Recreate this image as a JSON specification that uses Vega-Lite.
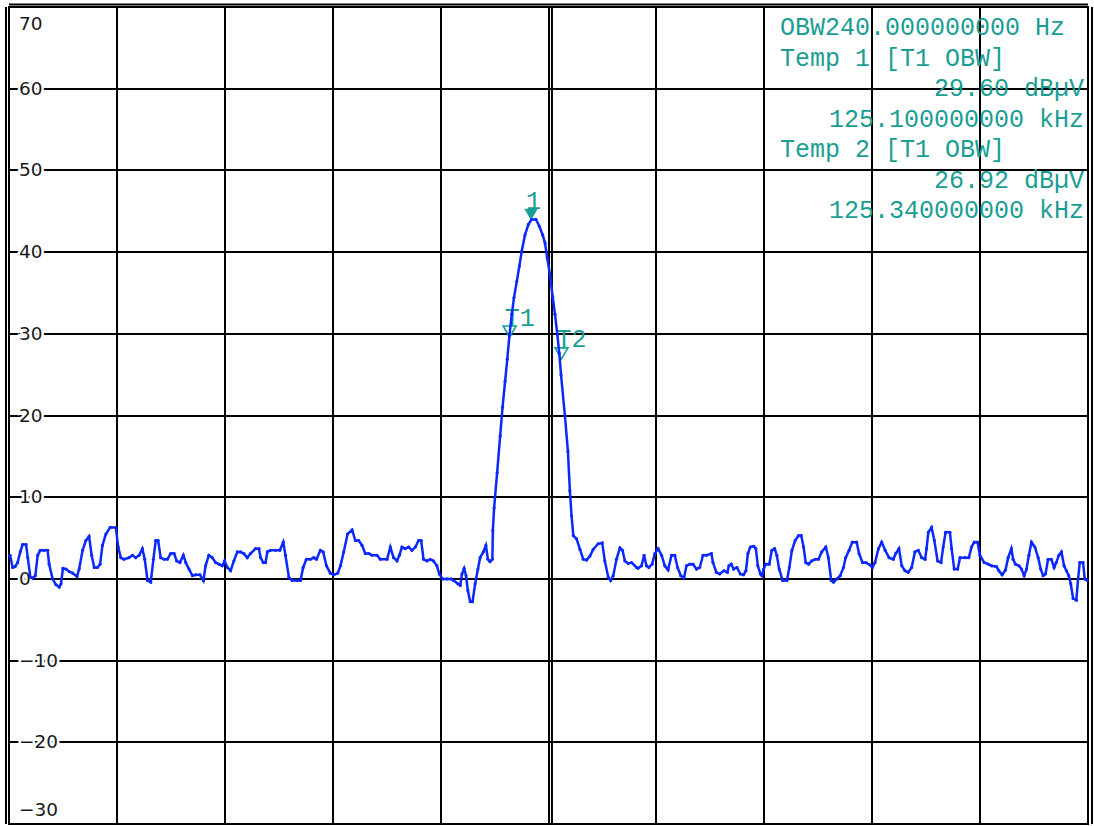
{
  "$schema": "https://vega.github.io/schema/vega-lite/v6.json",
  "width": 1079,
  "height": 817,
  "autosize": {"type": "none"},
  "padding": {"left": 9, "top": 7, "right": 6, "bottom": 2},
  "background": "#ffffff",
  "config": {
    "view": {"stroke": "#000000", "strokeWidth": 2},
    "axis": {"labels": false, "ticks": false, "title": null, "translate": 0, "gridColor": "#000000", "gridWidth": 2, "gridOpacity": 1, "domainColor": "#000000", "domainWidth": 2, "zindex": 0}
  },
  "datasets": {
    "trace": [
      {"f":122.785,"dB":2.9},{"f":122.797,"dB":1.4},{"f":122.808,"dB":1.5},{"f":122.820,"dB":2.0},{"f":122.832,"dB":3.3},{"f":122.843,"dB":4.2},{"f":122.859,"dB":4.2},{"f":122.867,"dB":2.6},{"f":122.879,"dB":0.2},{"f":122.890,"dB":0.1},
      {"f":122.902,"dB":0.4},{"f":122.913,"dB":2.9},{"f":122.925,"dB":3.5},{"f":122.941,"dB":3.5},{"f":122.959,"dB":3.5},{"f":122.966,"dB":1.8},{"f":122.982,"dB":0},{"f":122.997,"dB":-0.7},{"f":123.013,"dB":-1.0},{"f":123.021,"dB":-0.6},
      {"f":123.030,"dB":1.3},{"f":123.044,"dB":1.2},{"f":123.059,"dB":0.9},{"f":123.075,"dB":0.7},{"f":123.095,"dB":0.3},{"f":123.105,"dB":1.2},{"f":123.121,"dB":3.5},{"f":123.136,"dB":4.7},{"f":123.151,"dB":5.2},{"f":123.163,"dB":2.9},
      {"f":123.175,"dB":1.4},{"f":123.190,"dB":1.4},{"f":123.202,"dB":1.8},{"f":123.213,"dB":4.1},{"f":123.229,"dB":5.5},{"f":123.249,"dB":6.3},{"f":123.275,"dB":6.3},{"f":123.286,"dB":3.9},{"f":123.298,"dB":2.6},{"f":123.313,"dB":2.4},
      {"f":123.336,"dB":2.6},{"f":123.352,"dB":2.9},{"f":123.367,"dB":2.6},{"f":123.383,"dB":2.9},{"f":123.398,"dB":3.7},{"f":123.409,"dB":2.4},{"f":123.422,"dB":-0.2},{"f":123.437,"dB":-0.4},{"f":123.449,"dB":2.4},{"f":123.460,"dB":4.7},
      {"f":123.471,"dB":4.7},{"f":123.483,"dB":2.6},{"f":123.498,"dB":2.4},{"f":123.514,"dB":2.4},{"f":123.529,"dB":3.1},{"f":123.545,"dB":3.1},{"f":123.557,"dB":2.2},{"f":123.572,"dB":2.0},{"f":123.588,"dB":2.9},{"f":123.599,"dB":2.0},
      {"f":123.614,"dB":1.2},{"f":123.630,"dB":0.4},{"f":123.645,"dB":0.5},{"f":123.665,"dB":0.5},{"f":123.681,"dB":-0.2},{"f":123.691,"dB":1.6},{"f":123.706,"dB":2.9},{"f":123.722,"dB":2.6},{"f":123.737,"dB":2.0},{"f":123.753,"dB":1.8},
      {"f":123.768,"dB":1.6},{"f":123.779,"dB":2.2},{"f":123.792,"dB":1.4},{"f":123.807,"dB":1.0},{"f":123.822,"dB":2.2},{"f":123.838,"dB":3.3},{"f":123.853,"dB":3.3},{"f":123.868,"dB":3.1},{"f":123.884,"dB":2.6},{"f":123.899,"dB":3.1},
      {"f":123.922,"dB":3.7},{"f":123.938,"dB":3.7},{"f":123.946,"dB":2.6},{"f":123.958,"dB":2.0},{"f":123.969,"dB":2.0},{"f":123.977,"dB":3.3},{"f":123.992,"dB":3.5},{"f":124.015,"dB":3.5},{"f":124.035,"dB":3.5},{"f":124.051,"dB":4.5},
      {"f":124.061,"dB":2.9},{"f":124.077,"dB":0.2},{"f":124.092,"dB":-0.2},{"f":124.115,"dB":-0.2},{"f":124.131,"dB":-0.2},{"f":124.143,"dB":1.4},{"f":124.158,"dB":2.4},{"f":124.177,"dB":2.4},{"f":124.192,"dB":2.6},{"f":124.205,"dB":2.4},
      {"f":124.223,"dB":3.5},{"f":124.236,"dB":3.3},{"f":124.251,"dB":1.6},{"f":124.269,"dB":0.7},{"f":124.285,"dB":0.5},{"f":124.303,"dB":0.7},{"f":124.316,"dB":1.6},{"f":124.331,"dB":3.3},{"f":124.349,"dB":5.5},{"f":124.370,"dB":6.0},
      {"f":124.385,"dB":4.7},{"f":124.400,"dB":4.7},{"f":124.416,"dB":4.1},{"f":124.431,"dB":3.1},{"f":124.447,"dB":3.1},{"f":124.462,"dB":2.9},{"f":124.485,"dB":2.9},{"f":124.501,"dB":2.4},{"f":124.532,"dB":2.4},{"f":124.547,"dB":3.9},
      {"f":124.562,"dB":2.6},{"f":124.578,"dB":2.2},{"f":124.589,"dB":2.9},{"f":124.601,"dB":3.9},{"f":124.616,"dB":3.7},{"f":124.632,"dB":3.9},{"f":124.647,"dB":3.5},{"f":124.663,"dB":3.9},{"f":124.678,"dB":4.7},{"f":124.690,"dB":4.7},
      {"f":124.701,"dB":2.4},{"f":124.717,"dB":2.2},{"f":124.732,"dB":2.4},{"f":124.747,"dB":2.2},{"f":124.763,"dB":1.6},{"f":124.774,"dB":0.6},{"f":124.789,"dB":0},{"f":124.809,"dB":0},{"f":124.829,"dB":0},{"f":124.840,"dB":-0.2},
      {"f":124.860,"dB":-0.6},{"f":124.871,"dB":-0.8},{"f":124.879,"dB":0.6},{"f":124.889,"dB":1.3},{"f":124.898,"dB":0.4},{"f":124.906,"dB":-1.4},{"f":124.917,"dB":-2.8},{"f":124.928,"dB":-2.8},{"f":124.940,"dB":-0.6},{"f":124.953,"dB":1.2},
      {"f":124.963,"dB":2.6},{"f":124.978,"dB":3.3},{"f":124.990,"dB":4.1},{"f":124.999,"dB":2.4},{"f":125.009,"dB":2.1},{"f":125.020,"dB":2.4},{"f":125.022,"dB":5.9},{"f":125.028,"dB":8.7},{"f":125.042,"dB":13.0},{"f":125.056,"dB":17.5},
      {"f":125.067,"dB":21.0},{"f":125.079,"dB":24.2},{"f":125.089,"dB":26.9},{"f":125.099,"dB":29.8},{"f":125.110,"dB":32.4},{"f":125.120,"dB":34.4},{"f":125.133,"dB":36.4},{"f":125.145,"dB":38.3},{"f":125.156,"dB":40.1},{"f":125.171,"dB":42.1},
      {"f":125.187,"dB":43.4},{"f":125.202,"dB":44.0},{"f":125.222,"dB":44.0},{"f":125.237,"dB":43.2},{"f":125.253,"dB":42.1},{"f":125.264,"dB":41.1},{"f":125.274,"dB":39.3},{"f":125.287,"dB":37.2},{"f":125.299,"dB":34.6},{"f":125.310,"dB":32.4},
      {"f":125.321,"dB":29.9},{"f":125.330,"dB":27.6},{"f":125.338,"dB":25.0},{"f":125.356,"dB":20.0},{"f":125.370,"dB":15.6},{"f":125.379,"dB":10.8},{"f":125.387,"dB":7.7},{"f":125.395,"dB":5.3},{"f":125.410,"dB":4.9},{"f":125.426,"dB":3.6},
      {"f":125.441,"dB":2.4},{"f":125.457,"dB":2.3},{"f":125.472,"dB":2.8},{"f":125.487,"dB":3.6},{"f":125.510,"dB":4.3},{"f":125.529,"dB":4.4},{"f":125.541,"dB":2.2},{"f":125.557,"dB":0.2},{"f":125.568,"dB":-0.2},{"f":125.580,"dB":0.4},
      {"f":125.595,"dB":2.4},{"f":125.611,"dB":3.8},{"f":125.623,"dB":3.5},{"f":125.634,"dB":2.2},{"f":125.649,"dB":1.9},{"f":125.665,"dB":2.0},{"f":125.688,"dB":1.4},{"f":125.695,"dB":1.3},{"f":125.711,"dB":1.6},{"f":125.723,"dB":2.9},
      {"f":125.734,"dB":1.6},{"f":125.745,"dB":1.4},{"f":125.760,"dB":1.8},{"f":125.773,"dB":3.1},{"f":125.788,"dB":3.7},{"f":125.804,"dB":2.9},{"f":125.819,"dB":1.6},{"f":125.834,"dB":1.1},{"f":125.850,"dB":2.9},{"f":125.865,"dB":2.9},
      {"f":125.878,"dB":1.4},{"f":125.893,"dB":0.4},{"f":125.908,"dB":0.1},{"f":125.919,"dB":1.6},{"f":125.935,"dB":1.8},{"f":125.950,"dB":1.8},{"f":125.966,"dB":1.2},{"f":125.981,"dB":1.4},{"f":125.996,"dB":2.9},{"f":126.012,"dB":2.9},
      {"f":126.035,"dB":3.1},{"f":126.042,"dB":2.0},{"f":126.058,"dB":0.8},{"f":126.073,"dB":0.6},{"f":126.093,"dB":1.0},{"f":126.109,"dB":0.8},{"f":126.116,"dB":1.6},{"f":126.127,"dB":1.8},{"f":126.138,"dB":1.2},{"f":126.153,"dB":1.4},
      {"f":126.169,"dB":0.6},{"f":126.184,"dB":0.5},{"f":126.195,"dB":1.0},{"f":126.204,"dB":3.1},{"f":126.215,"dB":3.9},{"f":126.231,"dB":4.0},{"f":126.241,"dB":3.7},{"f":126.250,"dB":1.6},{"f":126.262,"dB":0.6},{"f":126.269,"dB":0.4},
      {"f":126.277,"dB":1.2},{"f":126.287,"dB":1.8},{"f":126.303,"dB":1.8},{"f":126.315,"dB":3.5},{"f":126.328,"dB":3.7},{"f":126.338,"dB":2.9},{"f":126.349,"dB":1.2},{"f":126.365,"dB":-0.2},{"f":126.385,"dB":-0.2},{"f":126.396,"dB":1.4},
      {"f":126.408,"dB":3.5},{"f":126.423,"dB":4.7},{"f":126.439,"dB":5.3},{"f":126.451,"dB":5.3},{"f":126.462,"dB":3.9},{"f":126.472,"dB":2.0},{"f":126.485,"dB":1.8},{"f":126.500,"dB":2.2},{"f":126.516,"dB":2.4},{"f":126.531,"dB":2.4},
      {"f":126.546,"dB":3.3},{"f":126.565,"dB":3.9},{"f":126.577,"dB":2.6},{"f":126.590,"dB":-0.2},{"f":126.601,"dB":-0.4},{"f":126.616,"dB":0},{"f":126.632,"dB":0.4},{"f":126.647,"dB":1.4},{"f":126.657,"dB":2.6},{"f":126.673,"dB":3.5},
      {"f":126.688,"dB":4.5},{"f":126.708,"dB":4.5},{"f":126.719,"dB":3.1},{"f":126.735,"dB":2.0},{"f":126.750,"dB":2.0},{"f":126.770,"dB":1.7},{"f":126.781,"dB":1.4},{"f":126.793,"dB":2.0},{"f":126.809,"dB":3.7},{"f":126.824,"dB":4.5},
      {"f":126.840,"dB":3.5},{"f":126.858,"dB":2.6},{"f":126.878,"dB":2.4},{"f":126.889,"dB":3.1},{"f":126.904,"dB":3.7},{"f":126.917,"dB":1.6},{"f":126.932,"dB":1.0},{"f":126.947,"dB":0.8},{"f":126.963,"dB":1.4},{"f":126.978,"dB":3.3},
      {"f":126.994,"dB":3.5},{"f":127.009,"dB":2.6},{"f":127.025,"dB":2.4},{"f":127.032,"dB":3.7},{"f":127.040,"dB":5.7},{"f":127.055,"dB":6.3},{"f":127.068,"dB":4.7},{"f":127.083,"dB":2.2},{"f":127.099,"dB":2.0},{"f":127.109,"dB":3.9},
      {"f":127.120,"dB":5.7},{"f":127.140,"dB":5.7},{"f":127.148,"dB":3.7},{"f":127.160,"dB":1.2},{"f":127.176,"dB":1.2},{"f":127.187,"dB":2.6},{"f":127.210,"dB":2.6},{"f":127.228,"dB":2.6},{"f":127.240,"dB":3.9},{"f":127.253,"dB":4.5},
      {"f":127.268,"dB":4.5},{"f":127.279,"dB":2.9},{"f":127.299,"dB":2.0},{"f":127.318,"dB":1.8},{"f":127.333,"dB":1.6},{"f":127.356,"dB":1.5},{"f":127.367,"dB":1.0},{"f":127.382,"dB":0.5},{"f":127.398,"dB":1.1},{"f":127.410,"dB":2.6},
      {"f":127.425,"dB":3.7},{"f":127.433,"dB":2.4},{"f":127.444,"dB":1.8},{"f":127.460,"dB":1.6},{"f":127.472,"dB":1.2},{"f":127.484,"dB":0.4},{"f":127.495,"dB":1.2},{"f":127.506,"dB":2.9},{"f":127.518,"dB":4.5},{"f":127.534,"dB":3.9},
      {"f":127.549,"dB":2.6},{"f":127.561,"dB":1.2},{"f":127.572,"dB":0.4},{"f":127.583,"dB":0.6},{"f":127.595,"dB":2.4},{"f":127.610,"dB":2.4},{"f":127.623,"dB":1.4},{"f":127.633,"dB":2.0},{"f":127.645,"dB":2.9},{"f":127.657,"dB":3.3},
      {"f":127.669,"dB":1.6},{"f":127.680,"dB":1.0},{"f":127.691,"dB":0.4},{"f":127.700,"dB":-0.6},{"f":127.711,"dB":-2.4},{"f":127.726,"dB":-2.6},{"f":127.734,"dB":0},{"f":127.742,"dB":2.0},{"f":127.757,"dB":2.0},{"f":127.765,"dB":0},
      {"f":127.777,"dB":-0.2}
    ],
    "ylabels": [{"v":-30},{"v":-20},{"v":-10},{"v":0},{"v":10},{"v":20},{"v":30},{"v":40},{"v":50},{"v":60},{"v":70}],
    "markers": [{"name":"1","f":125.199,"dB":43.9},{"name":"T1","f":125.1,"dB":29.6},{"name":"T2","f":125.34,"dB":26.92}],
    "centre": [{"f":125.296}]
  },
  "resolve": {"axis": {"x": "independent", "y": "independent"}},
  "layer": [
    {
      "data": {"name": "centre"},
      "mark": {"type": "rule", "color": "#000000", "strokeWidth": 2},
      "encoding": {
        "x": {"field": "f", "type": "quantitative", "scale": {"domain": [122.78, 127.78], "nice": false, "zero": false}, "axis": null}
      }
    },
    {
      "data": {"name": "ylabels"},
      "transform": [{"filter": "datum.v > -30 && datum.v < 70"}],
      "mark": {"type": "text", "align": "left", "baseline": "middle", "dx": 10, "font": "DejaVu Sans", "fontSize": 18.5, "fill": "#ffffff", "stroke": "#ffffff", "strokeWidth": 5},
      "encoding": {
        "x": {"datum": 122.78, "type": "quantitative", "axis": null},
        "y": {"field": "v", "type": "quantitative", "scale": {"domain": [-30, 70], "nice": false}, "axis": null},
        "text": {"field": "v", "type": "quantitative", "format": "d"}
      }
    },
    {
      "data": {"name": "ylabels"},
      "transform": [{"filter": "datum.v > -30 && datum.v < 70"}],
      "mark": {"type": "text", "align": "left", "baseline": "middle", "dx": 10, "font": "DejaVu Sans", "fontSize": 18.5, "color": "#1a1a1a"},
      "encoding": {
        "x": {"datum": 122.78, "type": "quantitative", "axis": null},
        "y": {"field": "v", "type": "quantitative", "axis": null},
        "text": {"field": "v", "type": "quantitative", "format": "d"}
      }
    },
    {
      "data": {"name": "ylabels"},
      "transform": [{"filter": "datum.v == 70"}],
      "mark": {"type": "text", "align": "left", "baseline": "middle", "dx": 10, "dy": 17, "font": "DejaVu Sans", "fontSize": 18.5, "color": "#1a1a1a"},
      "encoding": {
        "x": {"datum": 122.78, "type": "quantitative", "axis": null},
        "y": {"field": "v", "type": "quantitative", "axis": null},
        "text": {"field": "v", "type": "quantitative", "format": "d"}
      }
    },
    {
      "data": {"name": "ylabels"},
      "transform": [{"filter": "datum.v == -30"}],
      "mark": {"type": "text", "align": "left", "baseline": "middle", "dx": 10, "dy": -14, "font": "DejaVu Sans", "fontSize": 18.5, "color": "#1a1a1a"},
      "encoding": {
        "x": {"datum": 122.78, "type": "quantitative", "axis": null},
        "y": {"field": "v", "type": "quantitative", "axis": null},
        "text": {"field": "v", "type": "quantitative", "format": "d"}
      }
    },
    {
      "data": {"name": "markers"},
      "transform": [{"filter": "datum.name != '1'"}],
      "mark": {"type": "point", "shape": "M-1,-1.7L1,-1.7L0,0Z", "size": 169, "filled": false, "color": "#1a9e94", "strokeWidth": 1.6, "opacity": 1},
      "encoding": {
        "x": {"field": "f", "type": "quantitative", "axis": null},
        "y": {"field": "dB", "type": "quantitative", "axis": {"orient": "right", "grid": false, "domain": true, "offset": 4}}
      }
    },
    {
      "data": {"name": "markers"},
      "transform": [{"filter": "datum.name == '1'"}],
      "mark": {"type": "point", "shape": "M-1,-1.7L1,-1.7L0,0Z", "size": 180, "filled": true, "color": "#1a9e94", "opacity": 1},
      "encoding": {
        "x": {"field": "f", "type": "quantitative", "axis": null},
        "y": {"field": "dB", "type": "quantitative", "axis": null}
      }
    },
    {
      "data": {"name": "markers"},
      "mark": {"type": "text", "align": "left", "baseline": "middle", "dx": -5, "dy": -19.5, "font": "Liberation Mono", "fontSize": 25, "color": "#1a9e94"},
      "encoding": {
        "x": {"field": "f", "type": "quantitative", "axis": null},
        "y": {"field": "dB", "type": "quantitative", "axis": null},
        "text": {"field": "name", "type": "nominal"}
      }
    },
    {
      "data": {"values": [{}]},
      "mark": {
        "type": "text",
        "text": ["OBW240.000000000 Hz", "Temp 1 [T1 OBW]"],
        "align": "left", "baseline": "top", "dy": 8, "lineHeight": 30.5,
        "font": "Liberation Mono", "fontSize": 25, "color": "#1a9e94"
      },
      "encoding": {
        "x": {"datum": 126.353, "type": "quantitative", "axis": null},
        "y": {"datum": 70, "type": "quantitative", "axis": null}
      }
    },
    {
      "data": {"values": [{}]},
      "mark": {
        "type": "text",
        "text": "Temp 2 [T1 OBW]",
        "align": "left", "baseline": "top", "dy": 130,
        "font": "Liberation Mono", "fontSize": 25, "color": "#1a9e94"
      },
      "encoding": {
        "x": {"datum": 126.353, "type": "quantitative", "axis": null},
        "y": {"datum": 70, "type": "quantitative", "axis": null}
      }
    },
    {
      "data": {"values": [{}]},
      "mark": {
        "type": "text",
        "text": ["29.60 dBµV", "125.100000000 kHz"],
        "align": "right", "baseline": "top", "dx": -4, "dy": 69, "lineHeight": 30.5,
        "font": "Liberation Mono", "fontSize": 25, "color": "#1a9e94"
      },
      "encoding": {
        "x": {"datum": 127.78, "type": "quantitative", "axis": null},
        "y": {"datum": 70, "type": "quantitative", "axis": null}
      }
    },
    {
      "data": {"values": [{}]},
      "mark": {
        "type": "text",
        "text": ["26.92 dBµV", "125.340000000 kHz"],
        "align": "right", "baseline": "top", "dx": -4, "dy": 160.5, "lineHeight": 30.5,
        "font": "Liberation Mono", "fontSize": 25, "color": "#1a9e94"
      },
      "encoding": {
        "x": {"datum": 127.78, "type": "quantitative", "axis": null},
        "y": {"datum": 70, "type": "quantitative", "axis": null}
      }
    },
    {
      "data": {"name": "trace"},
      "mark": {"type": "line", "color": "#0a28ff", "strokeWidth": 2.5, "point": {"filled": true, "size": 10, "color": "#0a28ff", "opacity": 1}},
      "encoding": {
        "x": {"field": "f", "type": "quantitative", "scale": {"domain": [122.78, 127.78], "nice": false, "zero": false},
              "axis": {"orient": "top", "grid": true, "domain": true, "offset": 2.5, "values": [122.78, 123.28, 123.78, 124.28, 124.78, 125.28, 125.78, 126.28, 126.78, 127.28, 127.78]}},
        "y": {"field": "dB", "type": "quantitative", "scale": {"domain": [-30, 70], "nice": false},
              "axis": {"orient": "left", "grid": true, "domain": true, "offset": 3, "values": [-30, -20, -10, 0, 10, 20, 30, 40, 50, 60, 70]}}
      }
    }
  ]
}
